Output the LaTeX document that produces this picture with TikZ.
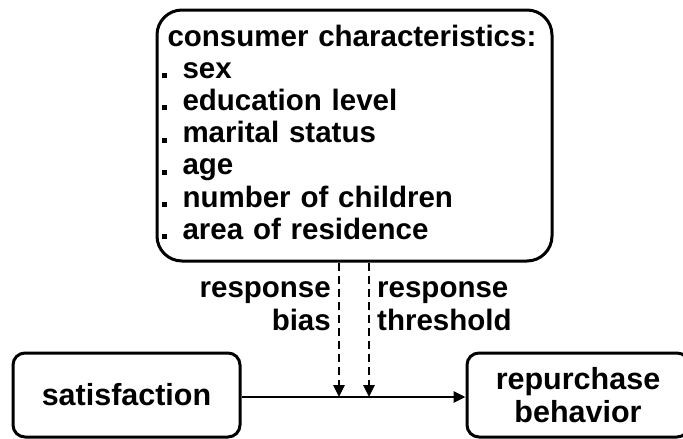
\documentclass[tikz,border=0pt]{standalone}
\usepackage{fontspec}
\setmainfont{Liberation Sans}
\usetikzlibrary{arrows.meta}

\newcommand{\itembullet}{\rule{5pt}{5pt}\hspace{16pt}}

\begin{document}
\begin{tikzpicture}[x=1pt,y=-1pt,
  every node/.style={font=\bfseries\fontsize{29.5}{32.2}\selectfont},
  roundbox/.style={draw, line width=3pt, inner sep=0pt},
  tip/.style={-{Triangle[length=12pt,width=11pt]}},
  link/.style={line width=2.8pt, tip},
  dashlink/.style={line width=2.8pt, dash pattern=on 8pt off 5pt, tip},
  label/.style={inner sep=0pt},
  bigtext/.style={font=\bfseries\fontsize{30.5}{33}\selectfont}
]
\useasboundingbox (0,0) rectangle (683,439);

% consumer characteristics box
\node[roundbox, rounded corners=25pt, minimum width=395pt, minimum height=251pt,
      text width=386pt, align=left, xshift=1.5pt] (chars) at (353,135.5)
  {\hspace{6pt}consumer characteristics:\\
   \itembullet sex\\
   \itembullet education level\\
   \itembullet marital status\\
   \itembullet age\\
   \itembullet number of children\\
   \itembullet area of residence\rule[-7pt]{0pt}{7pt}};

% outcome boxes
\node[roundbox, rounded corners=12pt, minimum width=227pt, minimum height=84pt,
      align=center, bigtext] (sat) at (126.5,395) {satisfaction};
\node[roundbox, rounded corners=12pt, minimum width=222pt, minimum height=84pt,
      align=center, bigtext] (rep) at (578,395)
  {repurchase\\behavior};

% junction points on the main arrow
\coordinate (j) at (0,397);
\coordinate (b1) at (339,397);
\coordinate (b2) at (369,397);

% main relation
\draw[link] (sat.east |- j) -- (rep.west |- j);

% moderating effects
\draw[dashlink] (chars.south -| b1) -- (b1);
\draw[dashlink] (chars.south -| b2) -- (b2);

% labels of the moderating effects (anchored at the baseline of the last line)
\node[label, anchor=base east, align=right] (lbias) at (331,330)
  {response\\bias};
\node[label, anchor=base west, align=left] (lthr) at (377,330)
  {response\\threshold};
\end{tikzpicture}
\end{document}
